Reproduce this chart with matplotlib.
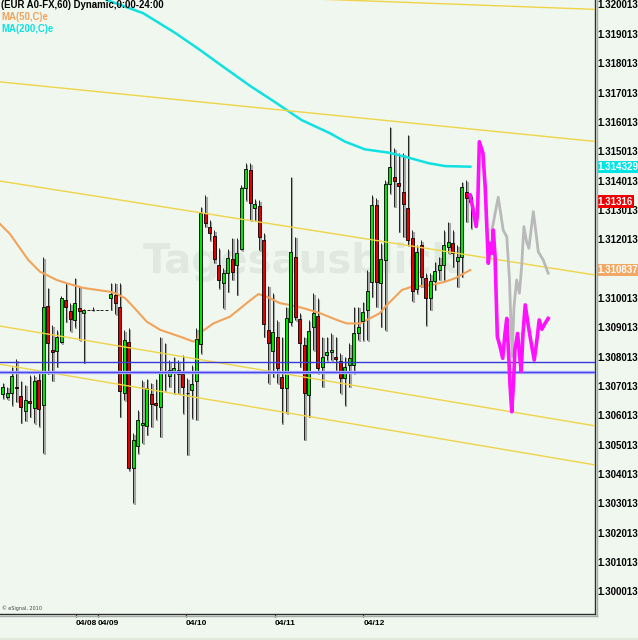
import numpy as np
import matplotlib
matplotlib.use('Agg')
import matplotlib.pyplot as plt
import matplotlib.transforms as mtransforms
from matplotlib.lines import Line2D
from matplotlib import font_manager

names = {f.name for f in font_manager.fontManager.ttflist}
narrow = 'Liberation Sans Narrow' if 'Liberation Sans Narrow' in names else 'Liberation Sans'

# hourly candles EUR A0-FX (open, high, low, close)
opens = [1.30660, 1.30651, 1.30665, 1.30685, 1.30655, 1.30602, 1.30636, 1.30614, 1.30708, 1.30622,
         1.30960, 1.30810, 1.30806, 1.30838, 1.30981, 1.30943, 1.30912, 1.30954, 1.30935, 1.30946,
         1.30946, 1.30946, 1.30946, 1.30946, 1.30988, 1.30998, 1.30958, 1.30663, 1.30837, 1.30407,
         1.30483, 1.30554, 1.30552, 1.30660, 1.30629, 1.30617, 1.30731, 1.30723, 1.30738, 1.30742,
         1.30727, 1.30663, 1.30674, 1.30706, 1.30831, 1.31276, 1.31230, 1.31200, 1.31100, 1.31038,
         1.31074, 1.31122, 1.31100, 1.31154, 1.31363, 1.31424, 1.31294, 1.31301, 1.31185, 1.30878,
         1.30807, 1.30856, 1.30717, 1.30682, 1.30905, 1.31128, 1.30916, 1.30827, 1.30656, 1.30888,
         1.30927, 1.30753, 1.30794, 1.30802, 1.30786, 1.30772, 1.30716, 1.30759, 1.30759, 1.30869,
         1.30909, 1.30947, 1.31041, 1.31305, 1.31038, 1.31117, 1.31376, 1.31399, 1.31379, 1.31350,
         1.31295, 1.31191, 1.31018, 1.31168, 1.31055, 1.30988, 1.31045, 1.31083, 1.31100, 1.31162,
         1.31176, 1.31115, 1.31128, 1.31348, 1.31333]
highs = [1.30699, 1.30685, 1.30753, 1.30779, 1.30706, 1.30692, 1.30724, 1.30724, 1.30733, 1.31126,
         1.31023, 1.30895, 1.30878, 1.30994, 1.31038, 1.30969, 1.31056, 1.31026, 1.30949, 1.30946,
         1.30956, 1.30946, 1.30946, 1.30946, 1.31040, 1.31040, 1.31038, 1.30878, 1.30884, 1.30526,
         1.30606, 1.30708, 1.30713, 1.30699, 1.30713, 1.30856, 1.30835, 1.30776, 1.30787, 1.30776,
         1.30793, 1.30714, 1.30759, 1.30884, 1.31299, 1.31338, 1.31253, 1.31219, 1.31157, 1.31089,
         1.31154, 1.31193, 1.31191, 1.31372, 1.31446, 1.31446, 1.31324, 1.31321, 1.31208, 1.31029,
         1.31003, 1.30912, 1.30856, 1.30958, 1.31401, 1.31196, 1.30935, 1.30856, 1.30912, 1.31003,
         1.30986, 1.30856, 1.30856, 1.30867, 1.30856, 1.30799, 1.30787, 1.30833, 1.30958, 1.30958,
         1.30975, 1.31083, 1.31338, 1.31327, 1.31174, 1.31389, 1.31571, 1.31497, 1.31480, 1.31480,
         1.31543, 1.31219, 1.31168, 1.31185, 1.31072, 1.31072, 1.31111, 1.31128, 1.31219, 1.31247,
         1.31219, 1.31168, 1.31384, 1.31389, 1.31342]
lows = [1.30646, 1.30643, 1.30623, 1.30634, 1.30563, 1.30569, 1.30583, 1.30561, 1.30551, 1.30458,
        1.30729, 1.30706, 1.30753, 1.30833, 1.30907, 1.30875, 1.30888, 1.30844, 1.30767, 1.30946,
        1.30946, 1.30946, 1.30946, 1.30946, 1.30947, 1.30933, 1.30583, 1.30640, 1.30401, 1.30288,
        1.30458, 1.30492, 1.30521, 1.30549, 1.30574, 1.30515, 1.30674, 1.30685, 1.30663, 1.30663,
        1.30595, 1.30453, 1.30578, 1.30572, 1.30799, 1.31230, 1.31185, 1.31107, 1.31021, 1.30952,
        1.31009, 1.31049, 1.30998, 1.31151, 1.31321, 1.31253, 1.31253, 1.31151, 1.30856, 1.30697,
        1.30719, 1.30697, 1.30561, 1.30595, 1.30895, 1.30912, 1.30753, 1.30504, 1.30583, 1.30810,
        1.30731, 1.30685, 1.30776, 1.30776, 1.30742, 1.30663, 1.30623, 1.30685, 1.30731, 1.30844,
        1.30844, 1.30844, 1.30992, 1.30958, 1.30890, 1.30878, 1.31344, 1.31299, 1.31213, 1.31196,
        1.31168, 1.30977, 1.31003, 1.31026, 1.30895, 1.30947, 1.31015, 1.31049, 1.31049, 1.31140,
        1.31094, 1.31026, 1.31060, 1.31247, 1.31225]
closes = [1.30683, 1.30663, 1.30723, 1.30680, 1.30615, 1.30641, 1.30629, 1.30705, 1.30608, 1.30956,
          1.30835, 1.30805, 1.30856, 1.30988, 1.30956, 1.30916, 1.30969, 1.30944, 1.30946, 1.30946,
          1.30946, 1.30946, 1.30946, 1.30946, 1.31000, 1.30969, 1.30671, 1.30844, 1.30407, 1.30504,
          1.30572, 1.30563, 1.30682, 1.30626, 1.30624, 1.30733, 1.30736, 1.30742, 1.30750, 1.30727,
          1.30685, 1.30663, 1.30693, 1.30848, 1.31278, 1.31242, 1.31210, 1.31119, 1.31048, 1.31074,
          1.31124, 1.31077, 1.31142, 1.31363, 1.31427, 1.31310, 1.31307, 1.31194, 1.30899, 1.30833,
          1.30871, 1.30750, 1.30682, 1.30918, 1.31143, 1.30924, 1.30835, 1.30663, 1.30876, 1.30935,
          1.30748, 1.30786, 1.30802, 1.30810, 1.30781, 1.30716, 1.30753, 1.30782, 1.30867, 1.30890,
          1.30939, 1.31011, 1.31305, 1.31041, 1.31119, 1.31376, 1.31433, 1.31385, 1.31369, 1.31309,
          1.31185, 1.31011, 1.31145, 1.31060, 1.30988, 1.31046, 1.31079, 1.31100, 1.31168, 1.31177,
          1.31140, 1.31126, 1.31365, 1.31329, 1.31316]

# moving averages (bar index, price)
ma50_x = [-0.6, 1.6, 3.8, 5.7, 8.3, 12.0, 14.2, 17.9, 23.8, 25.0, 27.2, 29.0, 32.0, 35.0, 39.4,
          42.4, 43.2, 43.8, 46.8, 50.5, 54.2, 56.8, 58.7, 61.6, 63.8, 66.8, 70.5, 74.2, 76.4,
          79.4, 81.6, 83.8, 85.0, 88.7, 90.9, 95.3, 98.3, 100.5, 103.9]
ma50_y = [1.31240, 1.31206, 1.31158, 1.31117, 1.31077, 1.31049, 1.31038, 1.31022, 1.31009,
          1.31004, 1.30987, 1.30958, 1.30907, 1.30879, 1.30856, 1.30839, 1.30845, 1.30868,
          1.30901, 1.30924, 1.30970, 1.31001, 1.30992, 1.30970, 1.30964, 1.30953, 1.30936,
          1.30913, 1.30901, 1.30901, 1.30918, 1.30936, 1.30958, 1.31015, 1.31026, 1.31032,
          1.31043, 1.31055, 1.31083]
ma200_x = [23.1, 31.2, 38.3, 43.8, 49.4, 55.0, 60.5, 66.4, 72.7, 76.1, 80.5, 85.7, 89.4, 94.6,
           98.3, 103.9]
ma200_y = [1.32003, 1.31958, 1.31891, 1.31833, 1.31771, 1.31710, 1.31655, 1.31594, 1.31549,
           1.31520, 1.31494, 1.31483, 1.31469, 1.31447, 1.31437, 1.31435]

# drawn trend lines (two end points each) and horizontal levels
trend_x = [-0.6, 131.6]
trend_a = [1.32046, 1.31971]
trend_b = [1.31724, 1.31521]
trend_c = [1.31386, 1.31066]
trend_d = [1.30892, 1.30552]
trend_e = [1.30762, 1.30419]
levels = [1.30771, 1.30734]

# projected paths
pink_x = [103.8, 104.4, 105.2, 105.5, 105.9, 106.7, 107.2, 107.9, 108.3, 108.7, 109.0, 109.4,
          109.9, 110.5, 111.1, 111.6, 112.0, 112.4, 112.7, 113.1, 113.5, 113.8, 114.4, 114.8,
          115.2, 115.6, 116.1, 116.7, 117.3, 118.1, 118.7, 119.2, 119.8, 120.5, 121.2]
pink_y = [1.31339, 1.31299, 1.31231, 1.31276, 1.31520, 1.31481, 1.31367, 1.31106, 1.31174,
          1.31140, 1.31219, 1.31128, 1.30856, 1.30822, 1.30782, 1.30867, 1.30918, 1.30799,
          1.30697, 1.30600, 1.30697, 1.30810, 1.30867, 1.30799, 1.30737, 1.30867, 1.30964,
          1.30901, 1.30845, 1.30776, 1.30845, 1.30913, 1.30881, 1.30901, 1.30918]
gray_x = [108.7, 110.1, 111.2, 112.0, 112.6, 112.9, 113.2, 113.6, 114.2, 114.8, 115.3, 115.8,
          116.4, 116.9, 117.9, 118.5, 119.0, 120.1, 121.2]
gray_y = [1.31219, 1.31331, 1.31219, 1.31196, 1.31049, 1.30913, 1.30788, 1.30958, 1.31049,
          1.31004, 1.31094, 1.31231, 1.31179, 1.31157, 1.31282, 1.31208, 1.31145, 1.31117,
          1.31072]

date_pos = [16.3, 21.1, 40.7, 60.4, 80.1]
date_labels = ['04/08', '04/09', '04/10', '04/11', '04/12']
price_ticks = [round(1.300013 + 0.001 * k, 6) for k in range(21)]

last_values = [1.314329, 1.31316, 1.310837]
last_texts = ['1.314329', '1.31316', '1.310837']
last_colors = ['#00e4e4', '#ee0000', '#f2a862']

bg = '#eff7ef'
W, H = 638, 640
fig = plt.figure(figsize=(W / 100, H / 100), dpi=100, facecolor=bg)
ax = fig.add_axes([0, 26 / H, 595 / W, 614 / H], facecolor=bg)

ax.text(0.505, 0.573, 'Tagesausblick', transform=ax.transAxes, ha='center', va='center',
        fontsize=29, fontweight='bold', color='#e0e9e0', zorder=1)

x = np.arange(len(opens))
o = np.array(opens)
c = np.array(closes)
hi = np.array(highs)
lo = np.array(lows)
body_col = np.where(c >= o, '#00e400', '#e40000')

shadow = mtransforms.offset_copy(ax.transData, fig=fig, x=1.3, y=-1.5, units='dots')
ax.vlines(x, lo, hi, colors='#a6a6a6', lw=1.5, transform=shadow, zorder=2)
ax.vlines(x, lo, hi, colors='#222222', lw=0.7, zorder=3)
ax.plot(ma50_x, ma50_y, color='#f2a35a', lw=1.5, zorder=3.5)
ax.bar(x, np.abs(c - o), bottom=np.minimum(o, c), width=0.7, color=body_col,
       edgecolor='black', linewidth=0.6, zorder=4)
ax.plot(ma200_x, ma200_y, color='#10e0e0', lw=1.8, zorder=5)

for t in [trend_a, trend_b, trend_c, trend_d, trend_e]:
    ax.plot(trend_x, t, color='#f0d448', lw=1, zorder=6)
ax.axhline(levels[0], color='#3a3ad8', lw=1, zorder=6)
ax.axhline(levels[1], color='#b8b8ff', lw=2.4, zorder=6)
ax.axhline(levels[1], color='#4848f0', lw=1, zorder=6)

ax.plot(gray_x, gray_y, color='#b9b9b9', lw=2, zorder=7)
ax.plot(pink_x, pink_y, color='#ff10ff', lw=2.6, zorder=8)

ax.set_xlim(-0.6, 131.6)
ax.set_ylim(1.299110, 1.320029)

ax.yaxis.tick_right()
ax.set_yticks(price_ticks, [f'{v:.6f}' for v in price_ticks], va='top',
              fontsize=7, fontweight='bold', family=narrow)
ax.tick_params(axis='y', length=0, pad=1.5)
ax.set_xticks(date_pos, date_labels, ha='left', fontsize=6, fontweight='bold', family=narrow)
ax.tick_params(axis='x', length=2, width=1, pad=2, color='#333333')

for s in ['top', 'left']:
    ax.spines[s].set_visible(False)
for s in ['right', 'bottom']:
    ax.spines[s].set_color('#2c2c2c')
    ax.spines[s].set_linewidth(1)

for v, t, col in zip(last_values, last_texts, last_colors):
    ax.text(1.0045, v, t, transform=ax.get_yaxis_transform(), ha='left', va='center',
            fontsize=7, fontweight='bold', family=narrow, color='white', clip_on=False,
            zorder=10, bbox=dict(boxstyle='square,pad=0.12', fc=col, ec='none'))

# frame shadow
fig.add_artist(Line2D([597 / W, 597 / W], [24 / H, 1], color='#a8aca8', lw=1))
fig.add_artist(Line2D([0, 597 / W], [24 / H, 24 / H], color='#a8aca8', lw=1))
fig.add_artist(plt.Rectangle((0, 0), 1, 2 / H, color='#e2e8dc', transform=fig.transFigure))

fig.text(1 / W, 1 - 5 / H, '(EUR A0-FX,60) Dynamic,0:00-24:00', fontsize=6.9, fontweight='bold',
         family=narrow, va='center', ha='left', color='black')
fig.text(1 / W, 1 - 16.5 / H, 'MA(50,C)e', fontsize=6.9, fontweight='bold', family=narrow,
         va='center', ha='left', color='#f2a35a')
fig.text(1 / W, 1 - 28.5 / H, 'MA(200,C)e', fontsize=6.9, fontweight='bold', family=narrow,
         va='center', ha='left', color='#10e0e0')
fig.text(2 / W, 1 - 608 / H, '\u00a9 eSignal, 2010', fontsize=3.5, va='center', ha='left',
         color='#444444')

fig.savefig('out.png', dpi=100, facecolor=bg)
